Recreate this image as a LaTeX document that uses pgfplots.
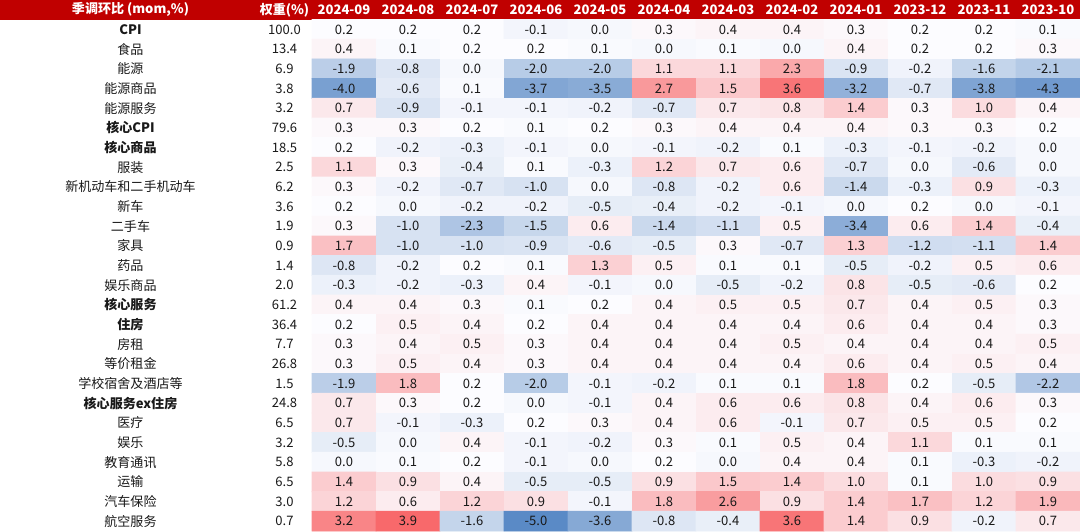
\documentclass[border=0pt]{standalone}
\usepackage{fontspec}
\setmainfont{Noto Sans CJK SC}
\usepackage{pgfplots}
\usepackage{pgfplotstable}
\pgfplotsset{compat=1.18}

\definecolor{hdr}{RGB}{192,0,0}

% x: 0=2024-09 ... 11=2023-10, y: row 1..26
\pgfplotstableread[row sep=\\]{
x y c\\
0 1 0.2\\ 1 1 0.2\\ 2 1 0.2\\ 3 1 -0.1\\ 4 1 0.0\\ 5 1 0.3\\ 6 1 0.4\\ 7 1 0.4\\ 8 1 0.3\\ 9 1 0.2\\ 10 1 0.2\\ 11 1 0.1\\
0 2 0.4\\ 1 2 0.1\\ 2 2 0.2\\ 3 2 0.2\\ 4 2 0.1\\ 5 2 0.0\\ 6 2 0.1\\ 7 2 0.0\\ 8 2 0.4\\ 9 2 0.2\\ 10 2 0.2\\ 11 2 0.3\\
0 3 -1.9\\ 1 3 -0.8\\ 2 3 0.0\\ 3 3 -2.0\\ 4 3 -2.0\\ 5 3 1.1\\ 6 3 1.1\\ 7 3 2.3\\ 8 3 -0.9\\ 9 3 -0.2\\ 10 3 -1.6\\ 11 3 -2.1\\
0 4 -4.0\\ 1 4 -0.6\\ 2 4 0.1\\ 3 4 -3.7\\ 4 4 -3.5\\ 5 4 2.7\\ 6 4 1.5\\ 7 4 3.6\\ 8 4 -3.2\\ 9 4 -0.7\\ 10 4 -3.8\\ 11 4 -4.3\\
0 5 0.7\\ 1 5 -0.9\\ 2 5 -0.1\\ 3 5 -0.1\\ 4 5 -0.2\\ 5 5 -0.7\\ 6 5 0.7\\ 7 5 0.8\\ 8 5 1.4\\ 9 5 0.3\\ 10 5 1.0\\ 11 5 0.4\\
0 6 0.3\\ 1 6 0.3\\ 2 6 0.2\\ 3 6 0.1\\ 4 6 0.2\\ 5 6 0.3\\ 6 6 0.4\\ 7 6 0.4\\ 8 6 0.4\\ 9 6 0.3\\ 10 6 0.3\\ 11 6 0.2\\
0 7 0.2\\ 1 7 -0.2\\ 2 7 -0.3\\ 3 7 -0.1\\ 4 7 0.0\\ 5 7 -0.1\\ 6 7 -0.2\\ 7 7 0.1\\ 8 7 -0.3\\ 9 7 -0.1\\ 10 7 -0.2\\ 11 7 0.0\\
0 8 1.1\\ 1 8 0.3\\ 2 8 -0.4\\ 3 8 0.1\\ 4 8 -0.3\\ 5 8 1.2\\ 6 8 0.7\\ 7 8 0.6\\ 8 8 -0.7\\ 9 8 0.0\\ 10 8 -0.6\\ 11 8 0.0\\
0 9 0.3\\ 1 9 -0.2\\ 2 9 -0.7\\ 3 9 -1.0\\ 4 9 0.0\\ 5 9 -0.8\\ 6 9 -0.2\\ 7 9 0.6\\ 8 9 -1.4\\ 9 9 -0.3\\ 10 9 0.9\\ 11 9 -0.3\\
0 10 0.2\\ 1 10 0.0\\ 2 10 -0.2\\ 3 10 -0.2\\ 4 10 -0.5\\ 5 10 -0.4\\ 6 10 -0.2\\ 7 10 -0.1\\ 8 10 0.0\\ 9 10 0.2\\ 10 10 0.0\\ 11 10 -0.1\\
0 11 0.3\\ 1 11 -1.0\\ 2 11 -2.3\\ 3 11 -1.5\\ 4 11 0.6\\ 5 11 -1.4\\ 6 11 -1.1\\ 7 11 0.5\\ 8 11 -3.4\\ 9 11 0.6\\ 10 11 1.4\\ 11 11 -0.4\\
0 12 1.7\\ 1 12 -1.0\\ 2 12 -1.0\\ 3 12 -0.9\\ 4 12 -0.6\\ 5 12 -0.5\\ 6 12 0.3\\ 7 12 -0.7\\ 8 12 1.3\\ 9 12 -1.2\\ 10 12 -1.1\\ 11 12 1.4\\
0 13 -0.8\\ 1 13 -0.2\\ 2 13 0.2\\ 3 13 0.1\\ 4 13 1.3\\ 5 13 0.5\\ 6 13 0.1\\ 7 13 0.1\\ 8 13 -0.5\\ 9 13 -0.2\\ 10 13 0.5\\ 11 13 0.6\\
0 14 -0.3\\ 1 14 -0.2\\ 2 14 -0.3\\ 3 14 0.4\\ 4 14 -0.1\\ 5 14 0.0\\ 6 14 -0.5\\ 7 14 -0.2\\ 8 14 0.8\\ 9 14 -0.5\\ 10 14 -0.6\\ 11 14 0.2\\
0 15 0.4\\ 1 15 0.4\\ 2 15 0.3\\ 3 15 0.1\\ 4 15 0.2\\ 5 15 0.4\\ 6 15 0.5\\ 7 15 0.5\\ 8 15 0.7\\ 9 15 0.4\\ 10 15 0.5\\ 11 15 0.3\\
0 16 0.2\\ 1 16 0.5\\ 2 16 0.4\\ 3 16 0.2\\ 4 16 0.4\\ 5 16 0.4\\ 6 16 0.4\\ 7 16 0.4\\ 8 16 0.6\\ 9 16 0.4\\ 10 16 0.4\\ 11 16 0.3\\
0 17 0.3\\ 1 17 0.4\\ 2 17 0.5\\ 3 17 0.3\\ 4 17 0.4\\ 5 17 0.4\\ 6 17 0.4\\ 7 17 0.5\\ 8 17 0.4\\ 9 17 0.4\\ 10 17 0.4\\ 11 17 0.5\\
0 18 0.3\\ 1 18 0.5\\ 2 18 0.4\\ 3 18 0.3\\ 4 18 0.4\\ 5 18 0.4\\ 6 18 0.4\\ 7 18 0.4\\ 8 18 0.6\\ 9 18 0.4\\ 10 18 0.5\\ 11 18 0.4\\
0 19 -1.9\\ 1 19 1.8\\ 2 19 0.2\\ 3 19 -2.0\\ 4 19 -0.1\\ 5 19 -0.2\\ 6 19 0.1\\ 7 19 0.1\\ 8 19 1.8\\ 9 19 0.2\\ 10 19 -0.5\\ 11 19 -2.2\\
0 20 0.7\\ 1 20 0.3\\ 2 20 0.2\\ 3 20 0.0\\ 4 20 -0.1\\ 5 20 0.4\\ 6 20 0.6\\ 7 20 0.6\\ 8 20 0.8\\ 9 20 0.4\\ 10 20 0.6\\ 11 20 0.3\\
0 21 0.7\\ 1 21 -0.1\\ 2 21 -0.3\\ 3 21 0.2\\ 4 21 0.3\\ 5 21 0.4\\ 6 21 0.6\\ 7 21 -0.1\\ 8 21 0.7\\ 9 21 0.5\\ 10 21 0.5\\ 11 21 0.2\\
0 22 -0.5\\ 1 22 0.0\\ 2 22 0.4\\ 3 22 -0.1\\ 4 22 -0.2\\ 5 22 0.3\\ 6 22 0.1\\ 7 22 0.5\\ 8 22 0.4\\ 9 22 1.1\\ 10 22 0.1\\ 11 22 0.1\\
0 23 0.0\\ 1 23 0.1\\ 2 23 0.2\\ 3 23 -0.1\\ 4 23 0.0\\ 5 23 0.2\\ 6 23 0.0\\ 7 23 0.4\\ 8 23 0.4\\ 9 23 0.1\\ 10 23 -0.3\\ 11 23 -0.2\\
0 24 1.4\\ 1 24 0.9\\ 2 24 0.4\\ 3 24 -0.5\\ 4 24 -0.5\\ 5 24 0.9\\ 6 24 1.5\\ 7 24 1.4\\ 8 24 1.0\\ 9 24 0.1\\ 10 24 1.0\\ 11 24 0.9\\
0 25 1.2\\ 1 25 0.6\\ 2 25 1.2\\ 3 25 0.9\\ 4 25 -0.1\\ 5 25 1.8\\ 6 25 2.6\\ 7 25 0.9\\ 8 25 1.4\\ 9 25 1.7\\ 10 25 1.2\\ 11 25 1.9\\
0 26 3.2\\ 1 26 3.9\\ 2 26 -1.6\\ 3 26 -5.0\\ 4 26 -3.6\\ 5 26 -0.8\\ 6 26 -0.4\\ 7 26 3.6\\ 8 26 1.4\\ 9 26 0.9\\ 10 26 -0.2\\ 11 26 0.7\\
}\cells

\pgfplotstableread[col sep=&, row sep=\\]{
y & name & w\\
1 & \textbf{CPI} & 100.0\\
2 & 食品 & 13.4\\
3 & 能源 & 6.9\\
4 & 能源商品 & 3.8\\
5 & 能源服务 & 3.2\\
6 & \textbf{核心CPI} & 79.6\\
7 & \textbf{核心商品} & 18.5\\
8 & 服装 & 2.5\\
9 & 新机动车和二手机动车 & 6.2\\
10 & 新车 & 3.6\\
11 & 二手车 & 1.9\\
12 & 家具 & 0.9\\
13 & 药品 & 1.4\\
14 & 娱乐商品 & 2.0\\
15 & \textbf{核心服务} & 61.2\\
16 & \textbf{住房} & 36.4\\
17 & 房租 & 7.7\\
18 & 等价租金 & 26.8\\
19 & 学校宿舍及酒店等 & 1.5\\
20 & \textbf{核心服务ex住房} & 24.8\\
21 & 医疗 & 6.5\\
22 & 娱乐 & 3.2\\
23 & 教育通讯 & 5.8\\
24 & 运输 & 6.5\\
25 & 汽车保险 & 3.0\\
26 & 航空服务 & 0.7\\
}\rows

\pgfplotstableread[col sep=&, row sep=\\]{
x & lab\\
-3.336 & 季调环比 (mom,\%)\\
-0.93 & 权重(\%)\\
0 & 2024-09\\
1 & 2024-08\\
2 & 2024-07\\
3 & 2024-06\\
4 & 2024-05\\
5 & 2024-04\\
6 & 2024-03\\
7 & 2024-02\\
8 & 2024-01\\
9 & 2023-12\\
10 & 2023-11\\
11 & 2023-10\\
}\head

\begin{document}
\begin{tikzpicture}
\begin{axis}[
  x=1cm, y=0.3073cm, y dir=reverse,
  xmin=-5.375, xmax=11.5, ymin=-0.5, ymax=26.5,
  axis lines=none, ticks=none, clip=false,
  colormap={rwb}{rgb255(0cm)=(90,138,198) rgb255(5.2cm)=(252,252,255) rgb255(8.9cm)=(248,105,107)},
  point meta min=-5, point meta max=3.9,
  /pgf/number format/fixed, /pgf/number format/fixed zerofill,
  /pgf/number format/precision=1, /pgf/number format/assume math mode=true,
  every node near coord/.append style={font=\fontsize{5.8}{7}\selectfont,
    text=black!90, anchor=center, inner sep=0pt},
]
\fill[hdr] (axis cs:-5.375,-0.5) rectangle (axis cs:11.5,0.5);

\addplot[matrix plot*, mesh/cols=12, point meta=\thisrow{c}] table[x=x, y=y] {\cells};

\addplot[only marks, mark=none, nodes near coords, point meta=\thisrow{c}]
  table[x=x, y=y] {\cells};

\addplot[only marks, mark=none, nodes near coords, point meta=explicit symbolic]
  table[x expr=-3.336, y=y, meta=name] {\rows};
\addplot[only marks, mark=none, nodes near coords, point meta=explicit symbolic]
  table[x expr=-0.93, y=y, meta=w] {\rows};

\addplot[only marks, mark=none, nodes near coords, point meta=explicit symbolic,
  nodes near coords style={text=white, font=\fontsize{5.8}{7}\selectfont\bfseries}]
  table[x=x, y expr=0, meta=lab] {\head};
\end{axis}
\end{tikzpicture}
\end{document}
